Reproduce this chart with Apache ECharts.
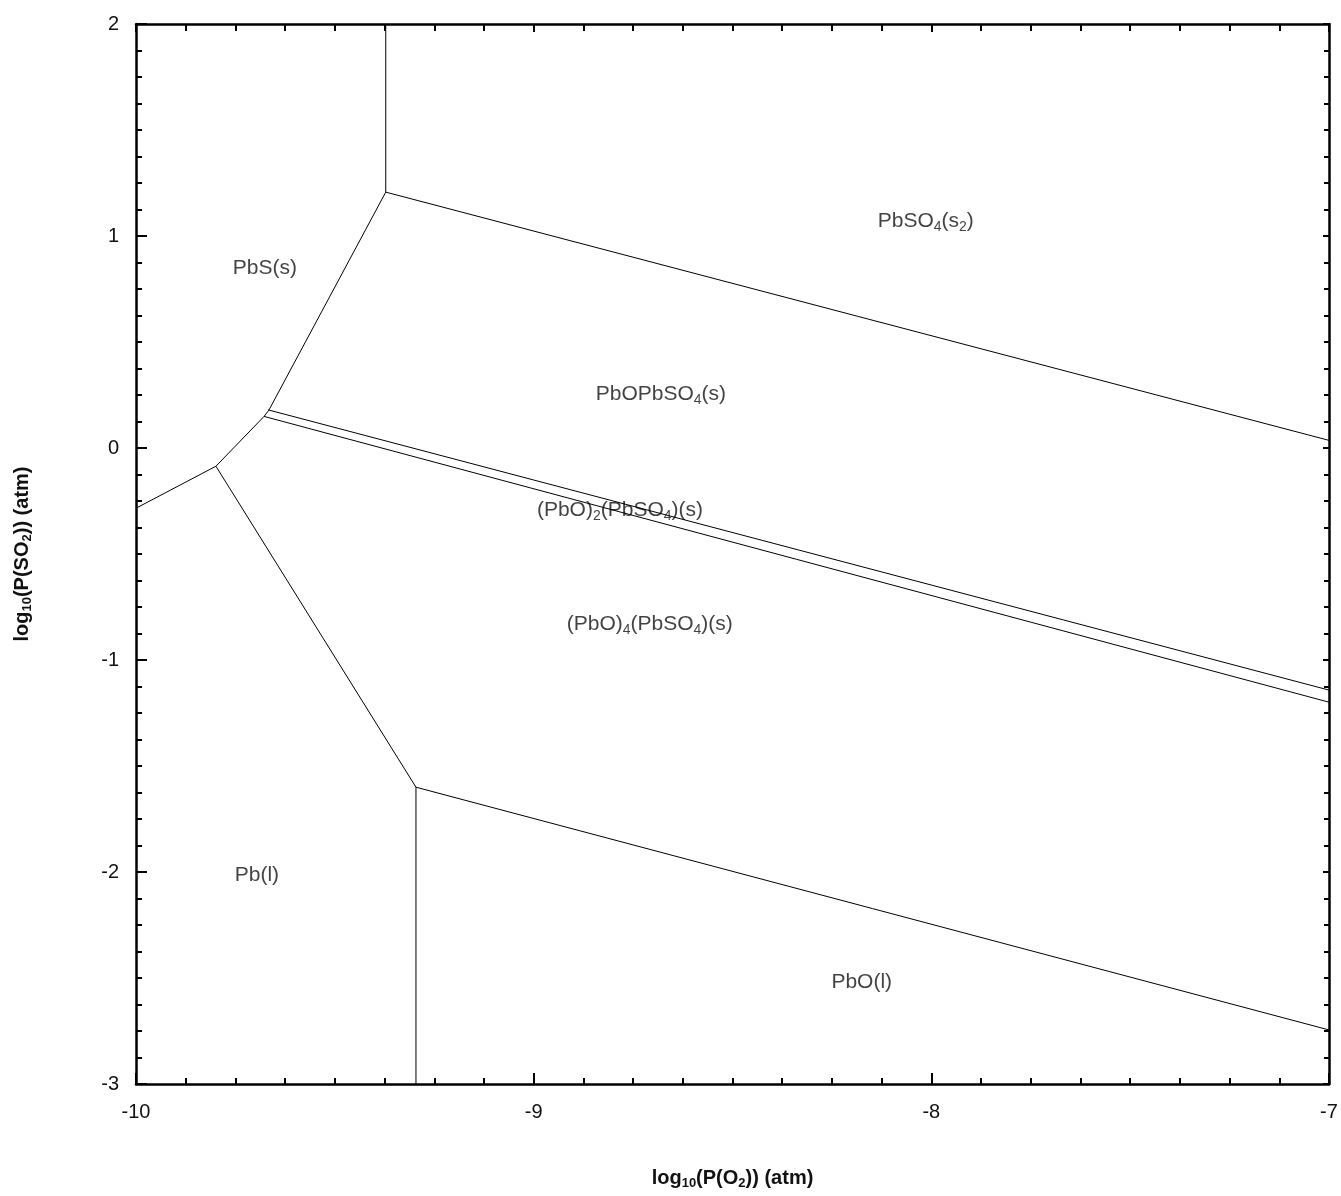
<!DOCTYPE html>
<html>
<head>
<meta charset="utf-8">
<script src="https://cdn.jsdelivr.net/npm/echarts@6/dist/echarts.min.js"></script>
<style>
html,body{margin:0;padding:0;background:#fff;}
#chart{width:1341px;height:1196px;}
</style>
</head>
<body>
<div id="chart"></div>
<script>
// ---- axis ranges / ticks ----
const xRange = [-10, -7];
const yRange = [-3, 2];
const xTickLabels = [-10, -9, -8, -7];
const yTickLabels = [-3, -2, -1, 0, 1, 2];

// ---- phase boundaries (log10 P(O2), log10 P(SO2)) ----
const boundaryPbS = [[-10, -0.284], [-9.799, -0.086], [-9.678, 0.149], [-9.666, 0.178], [-9.372, 1.207]];
const boundaryTopVertical = [[-9.372, 1.207], [-9.372, 2]];
const boundaryPbSO4 = [[-9.372, 1.207], [-7, 0.036]];
const boundaryUpperDouble = [[-9.668, 0.180], [-7, -1.142]];
const boundaryLowerDouble = [[-9.678, 0.149], [-7, -1.199]];
const boundaryPbLeft = [[-9.799, -0.086], [-9.296, -1.600]];
const boundaryPbBottom = [[-9.296, -1.600], [-9.296, -3]];
const boundaryPbO = [[-9.296, -1.600], [-7, -2.745]];

// ---- region labels ----
const regionNames = ['PbS(s)', 'PbSO4(s2)', 'PbOPbSO4(s)', '(PbO)2(PbSO4)(s)', '(PbO)4(PbSO4)(s)', 'Pb(l)', 'PbO(l)'];
const regionRich = [
  '{n|PbS(s)}',
  '{n|PbSO}{s|4}{n|(s}{s|2}{n|)}',
  '{n|PbOPbSO}{s|4}{n|(s)}',
  '{n|(PbO)}{s|2}{n|(PbSO}{s|4}{n|)(s)}',
  '{n|(PbO)}{s|4}{n|(PbSO}{s|4}{n|)(s)}',
  '{n|Pb(l)}',
  '{n|PbO(l)}'
];
const regionX = [-9.676, -8.014, -8.680, -8.783, -8.708, -9.696, -8.175];
const regionY = [0.857, 1.078, 0.263, -0.284, -0.822, -2.005, -2.510];

const FONT = '"Liberation Sans", Arial, sans-serif';
const boundaries = [boundaryPbS, boundaryTopVertical, boundaryPbSO4, boundaryUpperDouble,
                    boundaryLowerDouble, boundaryPbLeft, boundaryPbBottom, boundaryPbO];

const lineSeries = boundaries.map(d => ({
  type: 'line', data: d, xAxisIndex: 0, yAxisIndex: 0,
  symbol: 'none', silent: true, animation: false,
  lineStyle: { color: '#000', width: 1 }
}));

const labelSeries = {
  type: 'scatter', xAxisIndex: 0, yAxisIndex: 0, symbolSize: 0, silent: true, animation: false,
  data: regionNames.map((n, i) => ({ name: n, value: [regionX[i], regionY[i]] })),
  label: {
    show: true, position: 'inside',
    formatter: p => regionRich[p.dataIndex],
    rich: {
      n: { fontFamily: FONT, fontSize: 21, color: '#111', lineHeight: 25, verticalAlign: 'bottom' },
      s: { fontFamily: FONT, fontSize: 14, color: '#111', lineHeight: 14, verticalAlign: 'bottom', padding: [0, 0, -2, 0] }
    }
  }
};

const axisLine = { show: true, onZero: false, lineStyle: { color: '#000', width: 2.5 } };
const minor = { show: true, splitNumber: 8, length: 6, lineStyle: { color: '#000', width: 2 } };
const tick = { show: true, inside: true, length: 11, lineStyle: { color: '#000', width: 2 } };

const titleRich = {
  b: { fontFamily: FONT, fontSize: 20, fontWeight: 'bold', color: '#111', verticalAlign: 'bottom', lineHeight: 24 },
  s: { fontFamily: FONT, fontSize: 13, fontWeight: 'bold', color: '#111', verticalAlign: 'bottom', lineHeight: 13, padding: [0, 0, -2, 0] }
};

const option = {
  animation: false,
  backgroundColor: '#fff',
  grid: { left: 136, right: 12, top: 24, bottom: 112, containLabel: false },
  xAxis: [
    {
      type: 'value', min: xRange[0], max: xRange[1], interval: 1, position: 'bottom',
      axisLine, axisTick: tick, minorTick: minor, splitLine: { show: false },
      axisLabel: { show: true, margin: 18, fontFamily: FONT, fontSize: 20, color: '#111',
        formatter: v => xTickLabels.includes(v) ? String(v) : '' },
      name: '{b|log}{s|10}{b|(P(O}{s|2}{b|)) (atm)}', nameLocation: 'middle', nameGap: 80,
      nameTextStyle: { rich: titleRich }
    },
    {
      type: 'value', min: xRange[0], max: xRange[1], interval: 1, position: 'top',
      axisLine, axisTick: { ...tick, length: 8 }, minorTick: { ...minor, length: 7 },
      splitLine: { show: false }, axisLabel: { show: false }
    }
  ],
  yAxis: [
    {
      type: 'value', min: yRange[0], max: yRange[1], interval: 1, position: 'left',
      axisLine, axisTick: tick, minorTick: minor, splitLine: { show: false },
      axisLabel: { show: true, margin: 17, fontFamily: FONT, fontSize: 20, color: '#111',
        formatter: v => yTickLabels.includes(v) ? String(v) : '' },
      name: '{b|log}{s|10}{b|(P(SO}{s|2}{b|)) (atm)}', nameLocation: 'middle', nameGap: 104, nameRotate: 90,
      nameTextStyle: { rich: titleRich }
    },
    {
      type: 'value', min: yRange[0], max: yRange[1], interval: 1, position: 'right',
      axisLine, axisTick: { ...tick, length: 6 }, minorTick: { ...minor, length: 5 },
      splitLine: { show: false }, axisLabel: { show: false }
    }
  ],
  series: [...lineSeries, labelSeries]
};

const chart = echarts.init(document.getElementById('chart'), null, { renderer: 'canvas' });
chart.setOption(option);
</script>
</body>
</html>
